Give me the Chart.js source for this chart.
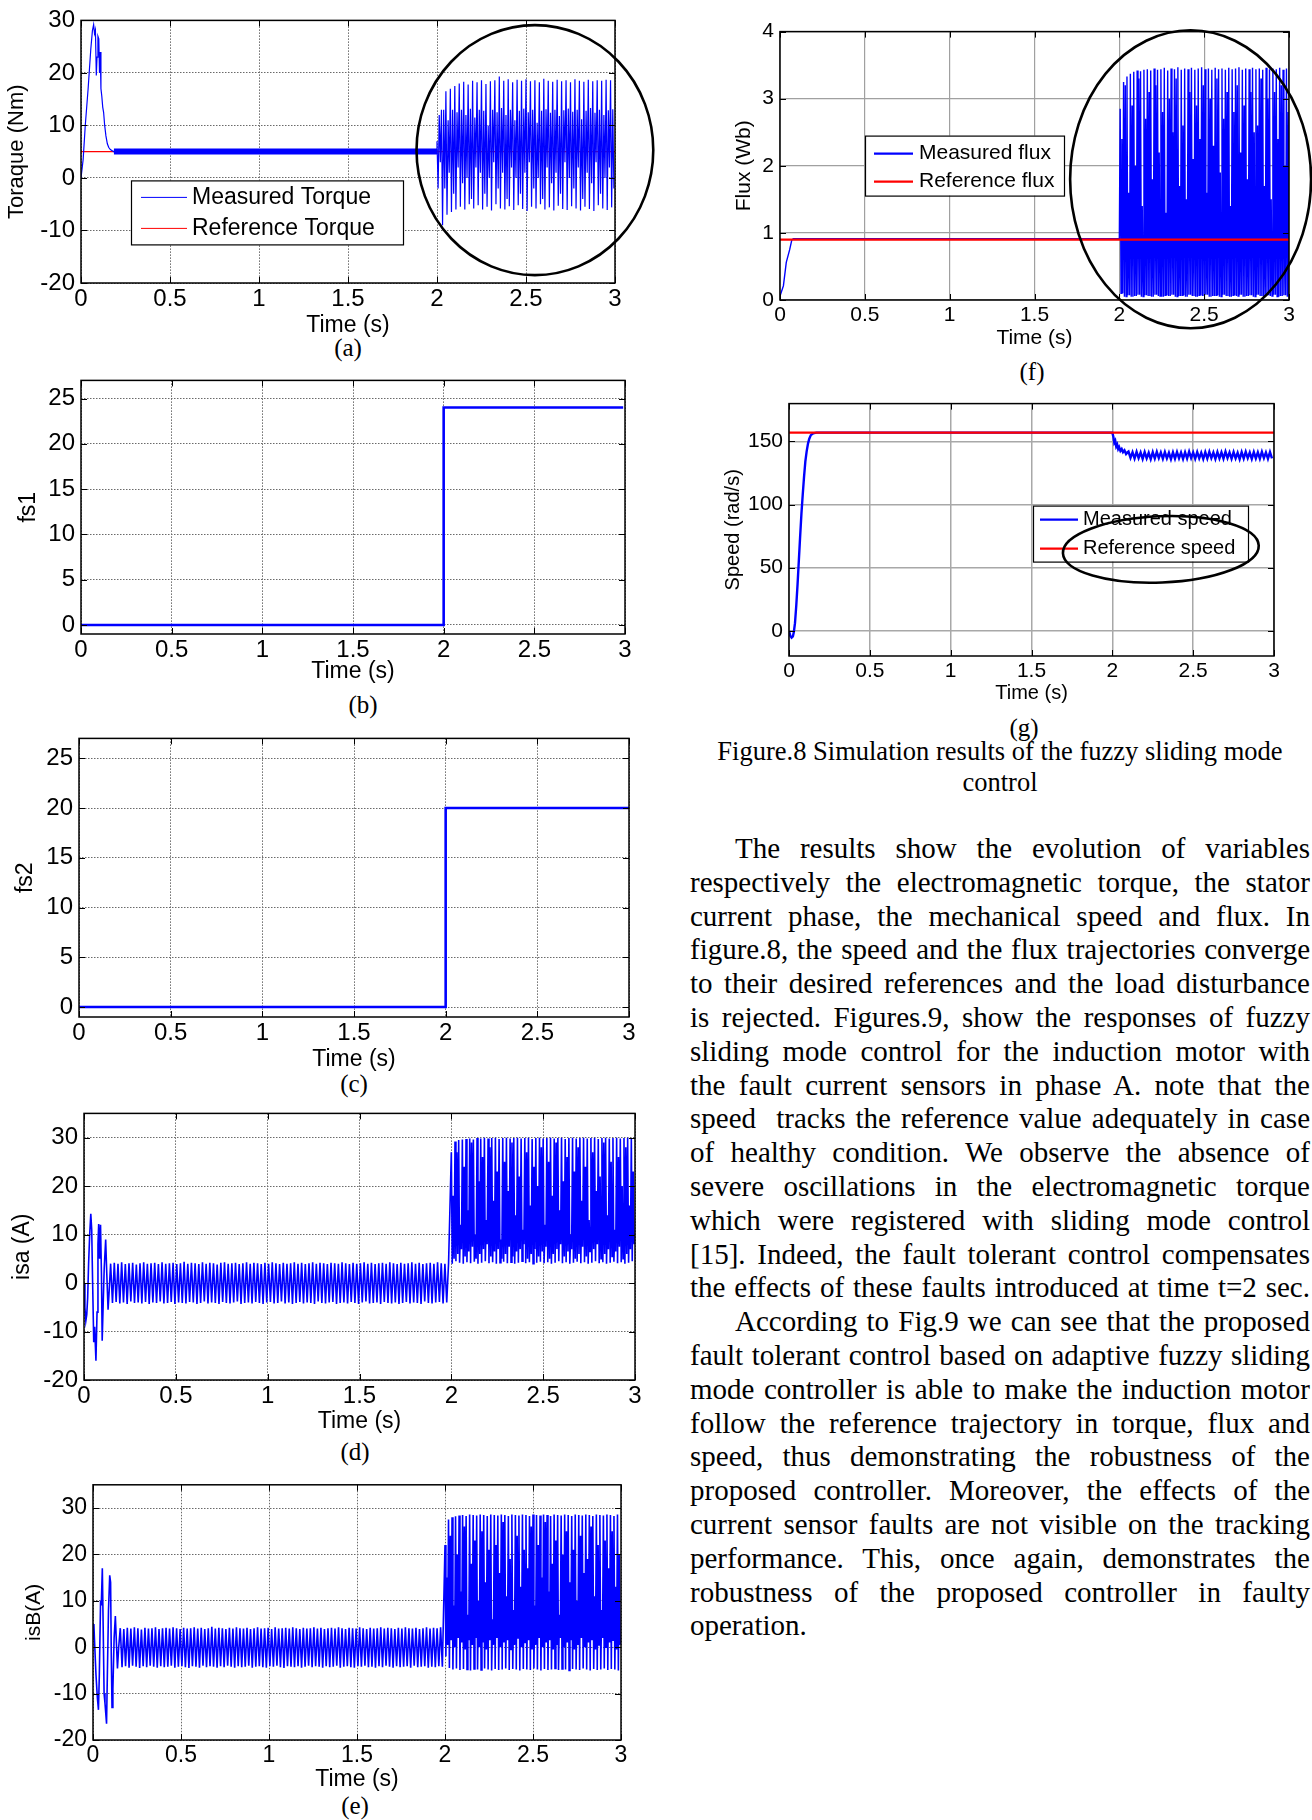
<!DOCTYPE html>
<html>
<head>
<meta charset="utf-8">
<script src="https://cdn.jsdelivr.net/npm/chart.js@4.4.0/dist/chart.umd.min.js"></script>
<style>
  html, body { margin: 0; padding: 0; background: #fff; }
  body { width: 1312px; height: 1820px; position: relative; overflow: hidden; }
  canvas { position: absolute; }
  .sub { position: absolute; font-family: 'Liberation Serif', 'Times New Roman', serif; font-size: 25px; transform: translate(-50%, -50%); white-space: nowrap; color: #000; }
  .caption { position: absolute; left: 690px; top: 736px; width: 620px; text-align: center; font-family: 'Liberation Serif', 'Times New Roman', serif; font-size: 26.5px; line-height: 31px; color: #000; }
  .para { position: absolute; left: 690px; top: 832px; width: 620px; font-family: 'Liberation Serif', 'Times New Roman', serif; font-size: 29px; line-height: 33.8px; color: #000; }
  .para div { text-align: justify; text-align-last: justify; }
  .para .ind { padding-left: 45px; }
  .para .end { text-align-last: left; }
</style>
</head>
<body>

<div class="sub" style="left:348px;top:348px">(a)</div>
<div class="sub" style="left:363px;top:705px">(b)</div>
<div class="sub" style="left:354px;top:1084px">(c)</div>
<div class="sub" style="left:355px;top:1452px">(d)</div>
<div class="sub" style="left:355px;top:1806px">(e)</div>
<div class="sub" style="left:1032px;top:372px">(f)</div>
<div class="sub" style="left:1024px;top:728px">(g)</div>

<div class="caption">Figure.8 Simulation results of the fuzzy sliding mode<br>control</div>

<div class="para">
  <div class="ind">The results show the evolution of variables</div>
  <div>respectively the electromagnetic torque, the stator</div>
  <div>current phase, the mechanical speed and flux. In</div>
  <div>figure.8, the speed and the flux trajectories converge</div>
  <div>to their desired references and the load disturbance</div>
  <div>is rejected. Figures.9, show the responses of fuzzy</div>
  <div>sliding mode control for the induction motor with</div>
  <div>the fault current sensors in phase A. note that the</div>
  <div>speed&nbsp; tracks the reference value adequately in case</div>
  <div>of healthy condition. We observe the absence of</div>
  <div>severe oscillations in the electromagnetic torque</div>
  <div>which were registered with sliding mode control</div>
  <div>[15]. Indeed, the fault tolerant control compensates</div>
  <div>the effects of these faults introduced at time t=2 sec.</div>
  <div class="ind">According to Fig.9 we can see that the proposed</div>
  <div>fault tolerant control based on adaptive fuzzy sliding</div>
  <div>mode controller is able to make the induction motor</div>
  <div>follow the reference trajectory in torque, flux and</div>
  <div>speed, thus demonstrating the robustness of the</div>
  <div>proposed controller. Moreover, the effects of the</div>
  <div>current sensor faults are not visible on the tracking</div>
  <div>performance. This, once again, demonstrates the</div>
  <div>robustness of the proposed controller in faulty</div>
  <div class="end">operation.</div>
</div>

<script>
// tick labels
const timeTicks = [0, 0.5, 1, 1.5, 2, 2.5, 3];
const torqueTicks = [-20, -10, 0, 10, 20, 30];
const faultTicks = [0, 5, 10, 15, 20, 25];
const currentTicks = [-20, -10, 0, 10, 20, 30];
const fluxTicks = [0, 1, 2, 3, 4];
const speedTicks = [0, 50, 100, 150];

// legend texts
const torqueLegend = ['Measured Torque', 'Reference Torque'];
const fluxLegend = ['Measured flux', 'Reference flux'];
const speedLegend = ['Measured speed', 'Reference speed'];

// (a) torque
const torqueStartT = [0, 0.012, 0.024, 0.04, 0.055, 0.064, 0.071, 0.076, 0.081, 0.086, 0.09, 0.095, 0.1, 0.104, 0.108, 0.112, 0.117, 0.122, 0.127, 0.133, 0.14, 0.148, 0.156, 0.165, 0.175, 0.185];
const torqueStartV = [0, 3.5, 10, 17, 24.5, 28, 29.2, 27.5, 28.2, 19.5, 23, 27, 26.5, 20, 24, 17, 15.5, 13.5, 12.5, 10, 8, 6.5, 5.8, 5.4, 5.2, 5.0];
const torqueBandT = [0.185, 2.0];
const torqueBandV = [5.05, 5.05];
const torqueRefT = [0, 3];
const torqueRefV = [5, 5];
// after the fault: one cycle = peak, trough, second peak, second trough
const torqueFaultHi = [
  7.0, 13.0, 16.5, 17.0, 17.5, 18.0, 18.3, 17.8, 18.5, 18.2,
  18.6, 17.9, 18.4, 18.6, 19.3, 18.5, 18.8, 18.2, 18.7, 18.5,
  18.8, 18.4, 18.6, 18.2, 18.9, 18.5, 18.3, 18.7, 18.4, 18.6,
  18.2, 18.8, 18.5, 18.3, 18.7, 18.4, 18.6, 18.5, 18.7, 18.6];
const torqueFaultLo = [
  -2.0, -9.0, -7.0, -6.5, -6.0, -5.5, -6.0, -5.0, -5.8, -5.2,
  -6.0, -5.5, -6.2, -5.0, -5.8, -6.0, -5.4, -6.1, -5.2, -5.9,
  -6.3, -5.5, -5.8, -5.0, -6.0, -5.6, -6.2, -5.3, -5.9, -6.1,
  -5.4, -5.8, -6.2, -5.5, -5.9, -6.3, -5.2, -5.8, -6.1, -5.6];
const torqueFaultMid = [
  12.0, 13.0, 11.0, 13.0, 12.5, 13.0, 12.0, 13.2, 11.5, 13.0,
  12.8, 10.0, 13.0, 12.5, 13.3, 12.0, 13.0, 11.0, 12.8, 13.2,
  12.5, 13.0, 10.5, 12.8, 13.1, 12.4, 13.0, 11.8, 12.9, 13.2,
  12.6, 13.0, 11.2, 12.8, 13.3, 12.4, 13.0, 12.0, 12.9, 13.1];
const torqueFaultLo2 = [
  3, -2, 1, -3, 2, -1, 0, -4, 2, 1,
  -3, 0, 3, -2, 1, -4, 2, 0, -3, 1,
  3, -2, 0, -4, 2, -1, 1, -3, 3, 0,
  -2, 2, -4, 1, -1, 3, -3, 0, 2, -2];

// (b) fs1 and (c) fs2
const fs1T = [0, 2, 2, 2.99];
const fs1V = [0, 0, 24, 24];
const fs2T = [0, 2, 2, 3];
const fs2V = [0, 0, 20, 20];

// (d) isa
const isaStartT = [0, 0.005, 0.01, 0.015, 0.02, 0.025, 0.031, 0.037, 0.042, 0.047, 0.053, 0.058, 0.065, 0.071, 0.076, 0.08, 0.085, 0.09, 0.095, 0.099, 0.104, 0.11, 0.118, 0.124, 0.131, 0.138, 0.145];
const isaStartV = [0, -5, -7.8, -6.5, -3, 4, 10, 14.3, 11, 0, -12.2, -9, -16, -6, 8, 12.2, 5, 12, 2, -11.9, -5, 3, 9, 2, -5.5, -1, 4];
const isaSteadyLo = [
  -4.1, -3.9, -4.2, -4.0, -4.3, -3.8, -4.1, -4.0, -4.2, -3.9,
  -4.3, -4.0, -4.1, -3.8, -4.2, -4.1, -3.9, -4.3, -4.0, -4.1,
  -4.2, -3.9, -4.0, -4.3, -4.1, -3.8, -4.2, -4.0, -4.1, -4.3,
  -3.9, -4.1, -4.2, -4.0, -3.8, -4.3, -4.1, -4.0, -4.2, -3.9,
  -4.1, -4.3, -4.0, -3.9, -4.2, -4.1, -3.8, -4.2, -4.0, -4.3,
  -4.1, -3.9, -4.2, -4.0, -4.1, -4.3, -3.8, -4.1, -4.2, -4.0,
  -3.9, -4.3, -4.1, -4.0, -4.2, -3.9, -4.1, -4.3, -4.0, -3.8,
  -4.2, -4.1, -4.0, -4.3, -3.9, -4.1, -4.2, -4.0, -4.3, -4.1,
  -3.9, -4.2, -4.0, -4.1, -4.3, -3.8, -4.1, -4.2, -4.0, -3.9,
  -4.2, -4.0];
const isaSteadyHi = [
  4.2, 4.0, 4.3, 3.9, 4.1, 4.2, 3.8, 4.1, 4.3, 4.0,
  4.1, 4.2, 3.9, 4.3, 4.0, 4.1, 4.2, 3.9, 4.1, 4.4,
  4.0, 4.2, 4.1, 3.9, 4.3, 4.0, 4.2, 4.1, 3.8, 4.2,
  4.3, 4.0, 4.1, 4.2, 3.9, 4.1, 4.3, 4.0, 4.2, 4.1,
  3.9, 4.2, 4.0, 4.3, 4.1, 3.9, 4.2, 4.0, 4.1, 4.3,
  4.0, 4.2, 3.9, 4.1, 4.3, 4.0, 4.2, 4.1, 3.9, 4.2,
  4.1, 4.0, 4.3, 4.1, 3.9, 4.2, 4.0, 4.1, 4.3, 4.0,
  4.2, 3.9, 4.1, 4.2, 4.0, 4.3, 4.1, 3.9, 4.2, 4.0,
  4.1, 4.3, 4.0, 4.2, 3.9, 4.1, 4.2, 4.0, 4.3, 4.1,
  4.0, 4.2];
const isaFaultHi = [
  27.0, 29.2, 29.5, 29.6, 29.7, 29.8, 29.6, 29.9, 29.8, 30.0,
  29.8, 29.9, 30.0, 29.7, 29.9, 30.0, 29.8, 29.9, 30.0, 29.8,
  29.9, 30.0, 29.7, 29.9, 30.0, 29.8, 29.9, 30.0, 29.8, 29.9,
  30.0, 29.7, 29.9, 30.0, 29.8, 29.9, 30.0, 29.8, 29.9, 30.0,
  29.7, 29.9, 30.0, 29.8, 29.9, 30.0, 29.8, 29.9, 30.0, 29.8];
const isaFaultLo = [
  4.0, 4.5, 4.2, 4.0, 4.3, 4.1, 4.4, 4.0, 4.2, 4.5,
  4.1, 4.3, 4.0, 4.2, 4.4, 4.1, 4.3, 4.0, 4.2, 4.5,
  4.1, 4.3, 4.0, 4.2, 4.4, 4.1, 4.3, 4.0, 4.2, 4.5,
  4.1, 4.3, 4.0, 4.2, 4.4, 4.1, 4.3, 4.0, 4.2, 4.5,
  4.1, 4.3, 4.0, 4.2, 4.4, 4.1, 4.3, 4.0, 4.2, 4.5];
const isaFaultMid = [
  18, 27, 12, 24, 15, 29, 10, 21, 26, 13,
  28, 17, 23, 9, 25, 19, 29, 14, 22, 11,
  27, 16, 24, 20, 28, 12, 25, 18, 29, 15,
  21, 26, 10, 23, 28, 17, 24, 13, 27, 19,
  22, 29, 14, 25, 11, 26, 20, 28, 16, 23];
const isaFaultLo2 = [
  5, 6, 7, 5.5, 6.5, 7.5, 5, 6, 7, 8,
  5.5, 6.5, 7, 5, 6, 7.5, 5.5, 6.5, 7, 8,
  5, 6, 7, 5.5, 6.5, 7.5, 5, 6, 7, 8,
  5.5, 6.5, 7, 5, 6, 7.5, 5.5, 6.5, 7, 8,
  5, 6, 7, 5.5, 6.5, 7.5, 5, 6, 7, 8];

// (e) isB
const isbStartT = [0, 0.005, 0.008, 0.017, 0.025, 0.031, 0.036, 0.043, 0.047, 0.053, 0.058, 0.063, 0.068, 0.077, 0.082, 0.088, 0.095, 0.1, 0.104, 0.108, 0.113, 0.12, 0.127, 0.133, 0.139, 0.146];
const isbStartV = [1.8, 5, 2, -6, -11, -13.5, -6, 10, 9, 17, 4, -10, -12, -16.5, -5, 8, 15.5, 14, -2, -13, -9, 2, 6.7, 1, -4.6, 0];
const isbSteadyHi = [
  4.1, 3.9, 4.2, 4.0, 4.3, 4.1, 3.8, 4.2, 4.0, 4.1,
  4.3, 3.9, 4.1, 4.2, 4.0, 4.3, 4.1, 3.9, 4.2, 4.0,
  4.1, 4.3, 4.0, 4.2, 3.9, 4.1, 4.4, 4.0, 4.2, 4.1,
  3.9, 4.2, 4.0, 4.3, 4.1, 4.0, 4.2, 3.9, 4.1, 4.3,
  4.0, 4.1, 4.2, 3.9, 4.3, 4.0, 4.1, 4.2, 4.0, 4.3,
  4.1, 3.9, 4.2, 4.0, 4.1, 4.3, 4.0, 4.2, 3.9, 4.1,
  4.2, 4.0, 4.3, 4.1, 3.9, 4.2, 4.1, 4.0, 4.3, 4.1,
  3.9, 4.2, 4.0, 4.1, 4.3, 4.0, 4.2, 4.1, 3.9, 4.2,
  4.0, 4.3, 4.1, 4.0, 4.2, 3.9, 4.1, 4.3, 4.0, 4.2,
  4.1, 4.3];
const isbSteadyLo = [
  -4.3, -4.1, -4.4, -4.0, -4.2, -4.5, -4.1, -4.3, -4.0, -4.2,
  -4.4, -4.1, -4.3, -4.2, -4.0, -4.4, -4.2, -4.1, -4.3, -4.5,
  -4.1, -4.2, -4.4, -4.0, -4.3, -4.1, -4.2, -4.4, -4.1, -4.3,
  -4.0, -4.2, -4.4, -4.1, -4.3, -4.2, -4.0, -4.4, -4.2, -4.1,
  -4.3, -4.4, -4.1, -4.2, -4.0, -4.3, -4.5, -4.1, -4.2, -4.3,
  -4.1, -4.4, -4.2, -4.0, -4.3, -4.1, -4.2, -4.4, -4.1, -4.3,
  -4.2, -4.0, -4.4, -4.2, -4.1, -4.3, -4.4, -4.1, -4.2, -4.0,
  -4.3, -4.2, -4.4, -4.1, -4.3, -4.0, -4.2, -4.4, -4.1, -4.3,
  -4.2, -4.1, -4.4, -4.0, -4.3, -4.2, -4.1, -4.4, -4.2, -4.3,
  -4.1, -4.2];
const isbFaultHi = [
  22.0, 27.5, 28.0, 28.2, 28.4, 28.5, 28.3, 28.6, 28.5, 28.4,
  28.6, 28.5, 28.3, 28.6, 28.5, 28.4, 28.6, 28.5, 28.3, 28.6,
  28.5, 28.4, 28.6, 28.5, 28.3, 28.6, 28.5, 28.4, 28.6, 28.5,
  28.3, 28.6, 28.5, 28.4, 28.6, 28.5, 28.3, 28.6, 28.5, 28.4,
  28.6, 28.5, 28.3, 28.6, 28.5, 28.4, 28.6, 28.5, 28.3, 28.6];
const isbFaultLo = [
  -2.0, -4.5, -4.8, -4.6, -4.9, -4.7, -4.8, -5.0, -4.7, -4.8,
  -4.9, -4.6, -4.8, -5.0, -4.7, -4.9, -4.8, -4.6, -4.9, -4.7,
  -4.8, -5.0, -4.7, -4.8, -4.9, -4.6, -4.8, -5.0, -4.7, -4.9,
  -4.8, -4.6, -4.9, -4.7, -4.8, -5.0, -4.7, -4.8, -4.9, -4.6,
  -4.8, -5.0, -4.7, -4.9, -4.8, -4.6, -4.9, -4.7, -4.8, -5.0];
const isbFaultMid = [
  15, 24, 9, 20, 12, 26, 7, 18, 23, 10,
  25, 14, 21, 6, 22, 16, 27, 11, 19, 8,
  24, 13, 21, 17, 26, 9, 22, 15, 27, 12,
  18, 23, 7, 20, 25, 14, 21, 10, 24, 16,
  19, 26, 11, 22, 8, 23, 17, 25, 13, 20];
const isbFaultLo2 = [
  0.5, 1.5, 0, 2, 1, -0.5, 1.5, 0.5, 2, 0,
  1, -0.5, 1.5, 0.5, 2, 0, 1, 1.5, -0.5, 0.5,
  2, 0, 1, 1.5, -0.5, 0.5, 2, 0, 1, 1.5,
  -0.5, 0.5, 2, 0, 1, 1.5, -0.5, 0.5, 2, 0,
  1, 1.5, -0.5, 0.5, 2, 0, 1, 1.5, -0.5, 0.5];

// (f) flux
const fluxHealthyT = [0, 0.02, 0.037, 0.057, 0.07, 0.08, 2.0];
const fluxHealthyV = [0.06, 0.21, 0.56, 0.75, 0.9, 0.915, 0.915];
const fluxRefT = [0, 3];
const fluxRefV = [0.9, 0.9];
const fluxFaultHi = [
  2.85, 3.25, 3.33, 3.37, 3.40, 3.42, 3.41, 3.43, 3.44, 3.42,
  3.45, 3.43, 3.44, 3.46, 3.42, 3.45, 3.44, 3.47, 3.43, 3.45,
  3.44, 3.46, 3.43, 3.45, 3.47, 3.44, 3.45, 3.43, 3.46, 3.44,
  3.45, 3.43, 3.46, 3.44, 3.45, 3.47, 3.43, 3.45, 3.44, 3.46,
  3.44, 3.45, 3.43, 3.46, 3.44, 3.45, 3.44, 3.46, 3.43, 3.45];
const fluxFaultLo = [
  0.10, 0.05, 0.07, 0.05, 0.06, 0.08, 0.05, 0.07, 0.06, 0.05,
  0.08, 0.06, 0.05, 0.07, 0.06, 0.08, 0.05, 0.06, 0.07, 0.05,
  0.08, 0.06, 0.05, 0.07, 0.06, 0.08, 0.05, 0.06, 0.07, 0.05,
  0.08, 0.06, 0.05, 0.07, 0.06, 0.08, 0.05, 0.06, 0.07, 0.05,
  0.08, 0.06, 0.05, 0.07, 0.06, 0.08, 0.05, 0.06, 0.07, 0.05];
const fluxFaultMid = [
  2.4, 3.2, 1.6, 2.9, 2.0, 3.3, 1.4, 2.7, 3.1, 1.8,
  3.2, 2.2, 2.8, 1.3, 3.0, 2.5, 3.3, 1.7, 2.6, 1.5,
  3.1, 2.1, 2.9, 2.4, 3.2, 1.6, 3.0, 2.3, 3.3, 1.9,
  2.7, 3.1, 1.4, 2.8, 3.2, 2.2, 2.9, 1.8, 3.1, 2.5,
  2.6, 3.3, 1.7, 3.0, 1.5, 3.1, 2.4, 3.2, 2.0, 2.8];

// (g) speed
const speedStartT = [0, 0.008, 0.016, 0.024, 0.03, 0.037, 0.045, 0.053, 0.061, 0.069, 0.077, 0.085, 0.093, 0.101, 0.109, 0.117, 0.125, 0.135, 0.15, 0.17];
const speedStartV = [0, -4, -5.5, -4.5, -1, 6, 20, 37, 56, 75, 93, 108, 122, 134, 142, 148, 152, 155, 156.5, 157];
const speedDropT = [2.0, 2.006, 2.012, 2.018, 2.024, 2.03, 2.036, 2.042, 2.05, 2.058, 2.066, 2.075, 2.085, 2.095];
const speedDropV = [157, 154, 149, 150.5, 146, 147.5, 144, 145.5, 142.5, 144, 141.5, 143, 140, 141.5];
const speedRippleHi = [
  142, 141.5, 141.8, 141.2, 141.6, 141, 141.5, 141.8, 141.3, 141.6,
  141, 141.4, 141.7, 141.2, 141.5, 141.9, 141.3, 141.6, 141.1, 141.5,
  141.8, 141.2, 141.6, 141.4, 141.9, 141.3, 141.6, 141, 141.5, 141.8,
  141.2, 141.6, 141.4, 141.8, 141.3, 141.6];
const speedRippleLo = [
  137, 136.5, 136.8, 136.2, 136.6, 136, 136.5, 136.8, 136.3, 136.6,
  136, 136.4, 136.7, 136.2, 136.5, 136.9, 136.3, 136.6, 136.1, 136.5,
  136.8, 136.2, 136.6, 136.4, 136.9, 136.3, 136.6, 136, 136.5, 136.8,
  136.2, 136.6, 136.4, 136.8, 136.3, 136.6];
const speedRefT = [0, 3];
const speedRefV = [157, 157];

const SANS = "'Liberation Sans', Arial, sans-serif";
const BLUE = '#0000ff';
const RED = '#ff0000';

function pts(ts, vs) {
  return ts.map((t, i) => ({ x: t, y: vs[i] }));
}

// one entry of every level per cycle, spread evenly over the cycle
function cycles(t0, period, levels) {
  const n = Math.min(...levels.map(l => l.length));
  const out = [];
  for (let i = 0; i < n; i++) {
    levels.forEach((lvl, j) => {
      out.push({ x: t0 + (i + j / levels.length) * period, y: lvl[i] });
    });
  }
  return out;
}

// MATLAB look: box, inward ticks, legend inside the axes, highlight ellipse
const matlabAxes = {
  id: 'matlabAxes',
  afterDatasetsDraw(chart, args, opts) {
    const { ctx, chartArea: a, scales: { x, y } } = chart;
    ctx.save();
    ctx.strokeStyle = '#000';
    ctx.lineWidth = 1;
    ctx.beginPath();
    x.ticks.forEach(t => {
      const px = Math.round(x.getPixelForValue(t.value)) + 0.5;
      ctx.moveTo(px, a.bottom); ctx.lineTo(px, a.bottom - 6);
      ctx.moveTo(px, a.top); ctx.lineTo(px, a.top + 6);
    });
    y.ticks.forEach(t => {
      const py = Math.round(y.getPixelForValue(t.value)) + 0.5;
      ctx.moveTo(a.left, py); ctx.lineTo(a.left + 6, py);
      ctx.moveTo(a.right, py); ctx.lineTo(a.right - 6, py);
    });
    ctx.stroke();
    ctx.lineWidth = 1.5;
    ctx.strokeRect(a.left, a.top, a.right - a.left, a.bottom - a.top);

    const lg = opts.legend;
    if (lg) {
      const x0 = a.left + lg.x, y0 = a.top + lg.y;
      ctx.fillStyle = '#fff';
      ctx.fillRect(x0, y0, lg.w, lg.h);
      ctx.strokeStyle = '#000';
      ctx.lineWidth = 1.2;
      ctx.strokeRect(x0 + 0.5, y0 + 0.5, lg.w, lg.h);
      ctx.font = lg.size + 'px ' + SANS;
      ctx.textBaseline = 'middle';
      ctx.textAlign = 'left';
      lg.items.forEach((it, i) => {
        const yy = y0 + lg.rows[i];
        ctx.strokeStyle = it.color;
        ctx.lineWidth = it.width;
        ctx.beginPath();
        ctx.moveTo(x0 + lg.line[0], yy);
        ctx.lineTo(x0 + lg.line[1], yy);
        ctx.stroke();
        ctx.fillStyle = '#000';
        ctx.fillText(it.text, x0 + lg.textX, yy);
      });
    }
    ctx.restore();
  },
  afterDraw(chart, args, opts) {
    const e = opts.ellipse;
    if (!e) return;
    const { ctx, scales: { x, y } } = chart;
    const cx = x.getPixelForValue(e.t), cy = y.getPixelForValue(e.v);
    const rx = x.getPixelForValue(e.t + e.rt) - cx;
    const ry = cy - y.getPixelForValue(e.v + e.rv);
    ctx.save();
    ctx.strokeStyle = '#000';
    ctx.lineWidth = e.width;
    ctx.beginPath();
    ctx.ellipse(cx, cy, rx, ry, e.rot || 0, 0, Math.PI * 2);
    ctx.stroke();
    ctx.restore();
  }
};

function line(data, color, width, order) {
  return { data, borderColor: color, borderWidth: width, order, pointRadius: 0, fill: false };
}

function makeChart(f, cfg) {
  const w = f.R - f.L + f.yW + f.padR;
  const h = f.B - f.T + f.padT + f.xH;
  const canvas = document.createElement('canvas');
  canvas.width = w;
  canvas.height = h;
  canvas.style.left = (f.L - f.yW) + 'px';
  canvas.style.top = (f.T - f.padT) + 'px';
  canvas.style.width = w + 'px';
  canvas.style.height = h + 'px';
  document.body.appendChild(canvas);

  const grid = () => ({ color: cfg.gridColor, lineWidth: cfg.gridWidth, drawTicks: false });
  const border = () => ({ display: false, dash: cfg.gridDash });

  return new Chart(canvas, {
    type: 'line',
    data: { datasets: cfg.datasets },
    options: {
      responsive: false,
      animation: false,
      events: [],
      parsing: false,
      layout: { padding: { top: f.padT, right: f.padR, left: 0, bottom: 0 } },
      elements: { point: { radius: 0 }, line: { tension: 0 } },
      plugins: {
        legend: { display: false },
        tooltip: { enabled: false },
        matlabAxes: { legend: cfg.legend, ellipse: cfg.ellipse }
      },
      scales: {
        x: {
          type: 'linear', min: 0, max: 3,
          afterBuildTicks: s => { s.ticks = timeTicks.map(v => ({ value: v })); },
          afterFit: s => { s.height = f.xH; },
          grid: grid(), border: border(),
          ticks: { color: '#000', padding: cfg.xPad, maxRotation: 0, autoSkip: false,
                   font: { family: SANS, size: cfg.tickSize }, callback: v => String(v) },
          title: { display: true, text: 'Time (s)', color: '#000', padding: 0,
                   font: { family: SANS, size: cfg.xTitleSize } }
        },
        y: {
          type: 'linear', min: cfg.yMin, max: cfg.yMax,
          afterBuildTicks: s => { s.ticks = cfg.yTicks.map(v => ({ value: v })); },
          afterFit: s => { s.width = f.yW; },
          grid: grid(), border: border(),
          ticks: { color: '#000', padding: 6, autoSkip: false,
                   font: { family: SANS, size: cfg.tickSize }, callback: v => String(v) },
          title: { display: true, text: cfg.yTitle, color: '#000', padding: 0,
                   font: { family: SANS, size: cfg.yTitleSize } }
        }
      }
    },
    plugins: [matlabAxes]
  });
}

const dotted = { gridColor: '#6a6a6a', gridWidth: 1, gridDash: [1.5, 1.5] };

// (a)
makeChart({ L: 81, T: 16, R: 615, B: 283, yW: 77, xH: 56, padT: 16, padR: 45 }, {
  ...dotted, yMin: -20, yMax: 30, yTicks: torqueTicks, yTitle: 'Toraque (Nm)',
  tickSize: 24, xTitleSize: 23, yTitleSize: 22, xPad: 2,
  datasets: [
    line(pts(torqueRefT, torqueRefV), RED, 1.3, 3),
    line(pts(torqueBandT, torqueBandV), BLUE, 6, 2),
    line([...pts(torqueStartT, torqueStartV), ...pts(torqueBandT, torqueBandV),
          ...cycles(2.0, 0.025, [torqueFaultHi, torqueFaultLo, torqueFaultMid, torqueFaultLo2])], BLUE, 1.2, 1)
  ],
  legend: { x: 50, y: 160, w: 272, h: 64, rows: [17, 48], line: [10, 56], textX: 61, size: 23,
            items: [{ text: torqueLegend[0], color: BLUE, width: 1 }, { text: torqueLegend[1], color: RED, width: 1 }] },
  ellipse: { t: 2.55, v: 5.3, rt: 0.665, rv: 23.8, width: 2.6 }
});

// (b)
makeChart({ L: 81, T: 376, R: 625, B: 634, yW: 66, xH: 51, padT: 16, padR: 15 }, {
  ...dotted, yMin: -1, yMax: 27, yTicks: faultTicks, yTitle: 'fs1',
  tickSize: 24, xTitleSize: 23, yTitleSize: 23, xPad: 2,
  datasets: [line(pts(fs1T, fs1V), BLUE, 2.6, 1)]
});

// (c)
makeChart({ L: 79, T: 734, R: 629, B: 1017, yW: 67, xH: 56, padT: 16, padR: 15 }, {
  ...dotted, yMin: -1, yMax: 27, yTicks: faultTicks, yTitle: 'fs2',
  tickSize: 24, xTitleSize: 23, yTitleSize: 23, xPad: 2,
  datasets: [line(pts(fs2T, fs2V), BLUE, 2.6, 1)]
});

// (d)
makeChart({ L: 84, T: 1109, R: 635, B: 1380, yW: 75, xH: 55, padT: 16, padR: 15 }, {
  ...dotted, yMin: -20, yMax: 35, yTicks: currentTicks, yTitle: 'isa (A)',
  tickSize: 24, xTitleSize: 23, yTitleSize: 23, xPad: 2,
  datasets: [line([...pts(isaStartT, isaStartV),
                   ...cycles(0.155, 0.02, [isaSteadyLo, isaSteadyHi]),
                   ...cycles(2.0, 0.02, [isaFaultHi, isaFaultLo, isaFaultMid, isaFaultLo2])], BLUE, 1.6, 1)]
});

// (e)
makeChart({ L: 93, T: 1481, R: 621, B: 1740, yW: 71, xH: 53, padT: 16, padR: 15 }, {
  ...dotted, yMin: -20, yMax: 35, yTicks: currentTicks, yTitle: 'isB(A)',
  tickSize: 23, xTitleSize: 23, yTitleSize: 21, xPad: 2,
  datasets: [line([...pts(isbStartT, isbStartV),
                   ...cycles(0.155, 0.02, [isbSteadyHi, isbSteadyLo]),
                   ...cycles(2.0, 0.02, [isbFaultHi, isbFaultLo, isbFaultMid, isbFaultLo2])], BLUE, 1.6, 1)]
});

// (f)
makeChart({ L: 780, T: 29, R: 1289, B: 300, yW: 48, xH: 51, padT: 16, padR: 23 }, {
  gridColor: '#a0a0a0', gridWidth: 1.2, gridDash: [],
  yMin: 0, yMax: 4, yTicks: fluxTicks, yTitle: 'Flux (Wb)',
  tickSize: 21, xTitleSize: 21, yTitleSize: 21, xPad: 3,
  datasets: [
    line(pts(fluxRefT, fluxRefV), RED, 2.2, 0),
    line([...pts(fluxHealthyT, fluxHealthyV),
          ...cycles(2.005, 0.02, [fluxFaultHi, fluxFaultLo, fluxFaultMid, fluxFaultLo])], BLUE, 1.4, 1)
  ],
  legend: { x: 85, y: 104, w: 199, h: 60, rows: [18, 46], line: [9, 48], textX: 54, size: 21,
            items: [{ text: fluxLegend[0], color: BLUE, width: 2.4 }, { text: fluxLegend[1], color: RED, width: 2.4 }] },
  ellipse: { t: 2.42, v: 1.8, rt: 0.71, rv: 2.22, width: 2.6 }
});

// (g)
makeChart({ L: 789, T: 401, R: 1274, B: 656, yW: 68, xH: 49, padT: 16, padR: 20 }, {
  gridColor: '#a8a8a8', gridWidth: 1.5, gridDash: [],
  yMin: -20, yMax: 180, yTicks: speedTicks, yTitle: 'Speed (rad/s)',
  tickSize: 21, xTitleSize: 20, yTitleSize: 20, xPad: 3,
  datasets: [
    line(pts(speedRefT, speedRefV), RED, 2.2, 0),
    line([...pts(speedStartT, speedStartV), ...pts(speedDropT, speedDropV),
          ...cycles(2.1, 0.025, [speedRippleHi, speedRippleLo])], BLUE, 2.4, 1)
  ],
  legend: { x: 244, y: 102, w: 215, h: 56, rows: [14, 43], line: [7, 45], textX: 50, size: 20,
            items: [{ text: speedLegend[0], color: BLUE, width: 2.4 }, { text: speedLegend[1], color: RED, width: 2.4 }] },
  ellipse: { t: 2.30, v: 64.5, rt: 0.606, rv: 26.3, rot: -0.04, width: 2.6 }
});
</script>
</body>
</html>
